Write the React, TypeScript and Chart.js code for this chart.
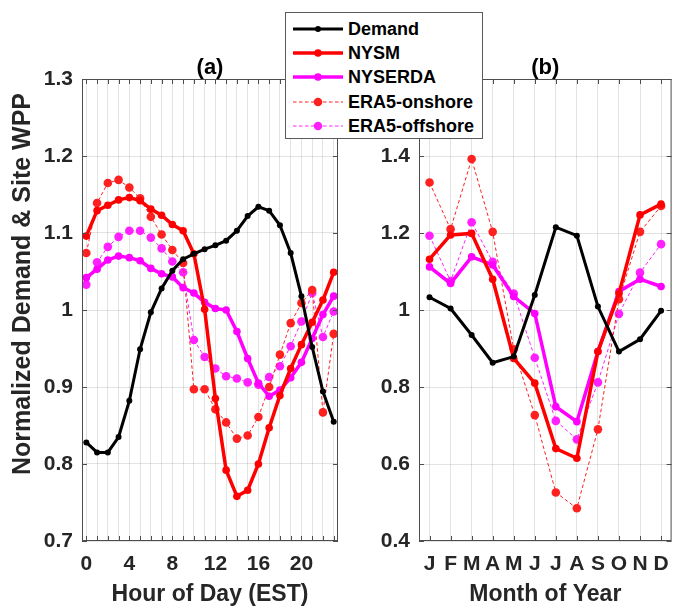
import React, { useEffect, useRef } from 'react';
import { Chart, registerables } from 'chart.js';

Chart.register(...registerables);

// ---------- data ----------
const hours = [0, 1, 2, 3, 4, 5, 6, 7, 8, 9, 10, 11, 12, 13, 14, 15, 16, 17, 18, 19, 20, 21, 22, 23];
const demandHourly = [0.828, 0.815, 0.815, 0.835, 0.882, 0.949, 0.997, 1.028, 1.051, 1.066, 1.073, 1.079, 1.084, 1.090, 1.103, 1.122, 1.134, 1.129, 1.110, 1.074, 1.018, 0.952, 0.894, 0.855];
const nysmHourly = [1.096, 1.129, 1.136, 1.143, 1.146, 1.142, 1.131, 1.123, 1.111, 1.103, 1.073, 1.001, 0.885, 0.792, 0.758, 0.766, 0.800, 0.847, 0.889, 0.924, 0.955, 0.984, 1.013, 1.049];
const nyserdaHourly = [1.042, 1.053, 1.065, 1.070, 1.068, 1.064, 1.054, 1.047, 1.043, 1.029, 1.022, 1.010, 1.002, 1.000, 0.972, 0.937, 0.905, 0.888, 0.896, 0.912, 0.932, 0.963, 0.994, 1.018];
const era5OnHourly = [1.074, 1.139, 1.165, 1.169, 1.159, 1.145, 1.121, 1.098, 1.078, 1.061, 0.897, 0.897, 0.871, 0.854, 0.833, 0.837, 0.861, 0.900, 0.942, 0.983, 1.009, 1.026, 0.867, 0.969];
const era5OffHourly = [1.033, 1.062, 1.082, 1.095, 1.103, 1.103, 1.094, 1.080, 1.063, 1.049, 0.961, 0.939, 0.924, 0.914, 0.911, 0.906, 0.903, 0.913, 0.927, 0.953, 0.985, 1.022, 0.965, 0.998];

const months = [1, 2, 3, 4, 5, 6, 7, 8, 9, 10, 11, 12];
const monthLabels = ['J', 'F', 'M', 'A', 'M', 'J', 'J', 'A', 'S', 'O', 'N', 'D'];
const demandMonthly = [1.033, 1.004, 0.935, 0.863, 0.879, 1.039, 1.215, 1.193, 1.009, 0.892, 0.924, 0.998];
const nysmMonthly = [1.132, 1.195, 1.199, 1.080, 0.874, 0.810, 0.640, 0.615, 0.892, 1.043, 1.247, 1.275];
const nyserdaMonthly = [1.112, 1.069, 1.138, 1.117, 1.035, 0.991, 0.749, 0.710, 0.892, 1.048, 1.080, 1.061];
const era5OnMonthly = [1.331, 1.210, 1.392, 1.203, 0.898, 0.727, 0.526, 0.485, 0.690, 1.028, 1.203, 1.270];
const era5OffMonthly = [1.193, 1.075, 1.228, 1.125, 1.043, 0.876, 0.712, 0.664, 0.812, 0.990, 1.097, 1.171];

const hourLabelStep = 4;
const leftYTicks = [0.7, 0.8, 0.9, 1.0, 1.1, 1.2, 1.3];
const rightYTicks = [0.4, 0.6, 0.8, 1.0, 1.2, 1.4, 1.6];

const seriesNames = ['Demand', 'NYSM', 'NYSERDA', 'ERA5-onshore', 'ERA5-offshore'];

// ---------- styles ----------
const FONT = "'Liberation Sans', Arial, Helvetica, sans-serif";
const TEXT = '#262626';
const GRID = 'rgba(0,0,0,0.11)';
const AXIS = '#4d4d4d';

type Style = { color: string; width: number; radius: number; dash: number[]; order: number };
const styles: Style[] = [
  { color: '#000000', width: 3, radius: 3, dash: [], order: 1 },
  { color: '#ff0000', width: 3.5, radius: 3.8, dash: [], order: 2 },
  { color: '#ff00ff', width: 3.5, radius: 3.8, dash: [], order: 3 },
  { color: '#ff2020', width: 1, radius: 4.3, dash: [3.5, 2.5], order: 4 },
  { color: '#ff20ff', width: 1, radius: 4.3, dash: [3.5, 2.5], order: 5 },
];

function makeDatasets(xs: number[], series: number[][]) {
  return series.map((vals, i) => {
    const s = styles[i];
    return {
      label: seriesNames[i],
      data: xs.map((x, j) => ({ x, y: vals[j] })),
      borderColor: s.color,
      backgroundColor: s.color,
      borderWidth: s.width,
      borderDash: s.dash,
      pointRadius: s.radius,
      pointBorderWidth: 0,
      pointBackgroundColor: s.color,
      tension: 0,
      order: s.order,
    };
  });
}

const boxPlugin = {
  id: 'matlabBox',
  afterDraw(chart: any) {
    const { ctx, chartArea: a, scales } = chart;
    const L = 5;
    ctx.save();
    ctx.strokeStyle = AXIS;
    ctx.lineWidth = 1;
    ctx.beginPath();
    scales.x.ticks.forEach((t: any) => {
      const px = Math.round(scales.x.getPixelForValue(t.value)) + 0.5;
      ctx.moveTo(px, a.bottom);
      ctx.lineTo(px, a.bottom - L);
      ctx.moveTo(px, a.top);
      ctx.lineTo(px, a.top + L);
    });
    scales.y.ticks.forEach((t: any) => {
      const py = Math.round(scales.y.getPixelForValue(t.value)) + 0.5;
      ctx.moveTo(a.left, py);
      ctx.lineTo(a.left + L, py);
      ctx.moveTo(a.right, py);
      ctx.lineTo(a.right - L, py);
    });
    ctx.stroke();
    ctx.strokeRect(a.left + 0.5, a.top + 0.5, a.right - a.left - 1, a.bottom - a.top - 1);
    ctx.restore();
  },
};

const yTitlePlugin = {
  id: 'yTitleLeft',
  afterDraw(chart: any) {
    const ctx = chart.ctx;
    ctx.save();
    ctx.translate(23, 284);
    ctx.rotate(-Math.PI / 2);
    ctx.font = `bold 25px ${FONT}`;
    ctx.fillStyle = TEXT;
    ctx.textAlign = 'center';
    ctx.textBaseline = 'middle';
    ctx.fillText('Normalized Demand & Site WPP', 0, 0);
    ctx.restore();
  },
};

function makeConfig(opts: {
  xs: number[];
  series: number[][];
  xMin: number;
  xMax: number;
  xLabel: (v: number) => string;
  xTitle: string;
  yTicks: number[];
  yDigits: number;
  yWidth: number;
  padRight: number;
  title: string;
  extraPlugins: any[];
}) {
  const tickFont = { family: FONT, size: 21, weight: 'bold' as const };
  return {
    type: 'line' as const,
    data: { datasets: makeDatasets(opts.xs, opts.series) },
    plugins: [boxPlugin, ...opts.extraPlugins],
    options: {
      animation: false as const,
      responsive: false,
      maintainAspectRatio: false,
      events: [],
      layout: { padding: { left: 0, right: opts.padRight, top: 0, bottom: 0 } },
      plugins: {
        legend: { display: false },
        tooltip: { enabled: false },
        title: {
          display: true,
          text: opts.title,
          fullSize: false,
          color: '#000',
          font: { family: FONT, size: 22, weight: 'bold' as const, lineHeight: 1 },
          padding: { top: 57, bottom: 0 },
        },
      },
      scales: {
        x: {
          type: 'linear' as const,
          min: opts.xMin,
          max: opts.xMax,
          afterBuildTicks: (s: any) => {
            s.ticks = opts.xs.map((v) => ({ value: v }));
          },
          afterFit: (s: any) => {
            s.height = 67;
          },
          grid: { color: GRID, drawTicks: false },
          border: { display: false },
          ticks: {
            autoSkip: false,
            maxRotation: 0,
            padding: 11,
            color: TEXT,
            font: tickFont,
            callback: (v: any) => opts.xLabel(Number(v)),
          },
          title: {
            display: true,
            text: opts.xTitle,
            color: TEXT,
            font: { family: FONT, size: 23, weight: 'bold' as const, lineHeight: 1.2 },
            padding: { top: 0, bottom: 0 },
          },
        },
        y: {
          type: 'linear' as const,
          min: opts.yTicks[0],
          max: opts.yTicks[opts.yTicks.length - 1],
          afterBuildTicks: (s: any) => {
            s.ticks = opts.yTicks.map((v) => ({ value: v }));
          },
          afterFit: (s: any) => {
            s.width = opts.yWidth;
          },
          grid: { color: GRID, drawTicks: false },
          border: { display: false },
          ticks: {
            padding: 9,
            color: TEXT,
            font: tickFont,
            callback: (v: any) => String(Number(Number(v).toFixed(opts.yDigits))),
          },
        },
      },
    },
  };
}

function LegendRow({ idx, top }: { idx: number; top: number }) {
  const s = styles[idx];
  return (
    <div style={{ position: 'absolute', left: 0, top: top - 12, height: 24, width: '100%' }}>
      <svg width={52} height={24} style={{ position: 'absolute', left: 6, top: 0 }}>
        <line
          x1={1}
          y1={12}
          x2={51}
          y2={12}
          stroke={s.color}
          strokeWidth={s.width}
          strokeDasharray={s.dash.length ? s.dash.join(' ') : undefined}
        />
        <circle cx={26} cy={12} r={s.radius} fill={s.color} />
      </svg>
      <span
        style={{
          position: 'absolute',
          left: 62,
          top: 0,
          lineHeight: '24px',
          whiteSpace: 'nowrap',
        }}
      >
        {seriesNames[idx]}
      </span>
    </div>
  );
}

export default function App() {
  const leftRef = useRef<HTMLCanvasElement | null>(null);
  const rightRef = useRef<HTMLCanvasElement | null>(null);

  useEffect(() => {
    const left = new Chart(
      leftRef.current as HTMLCanvasElement,
      makeConfig({
        xs: hours,
        series: [demandHourly, nysmHourly, nyserdaHourly, era5OnHourly, era5OffHourly],
        xMin: -0.4,
        xMax: 23.4,
        xLabel: (v) => (v % hourLabelStep === 0 ? String(v) : ''),
        xTitle: 'Hour of Day (EST)',
        yTicks: leftYTicks,
        yDigits: 1,
        yWidth: 82,
        padRight: 22,
        title: '(a)',
        extraPlugins: [yTitlePlugin],
      }) as any
    );
    const right = new Chart(
      rightRef.current as HTMLCanvasElement,
      makeConfig({
        xs: months,
        series: [demandMonthly, nysmMonthly, nyserdaMonthly, era5OnMonthly, era5OffMonthly],
        xMin: 0.5,
        xMax: 12.5,
        xLabel: (v) => monthLabels[v - 1] ?? '',
        xTitle: 'Month of Year',
        yTicks: rightYTicks,
        yDigits: 1,
        yWidth: 59,
        padRight: 4,
        title: '(b)',
        extraPlugins: [],
      }) as any
    );
    return () => {
      left.destroy();
      right.destroy();
    };
  }, []);

  return (
    <div
      style={{
        position: 'absolute',
        left: 0,
        top: 0,
        width: 673,
        height: 608,
        overflow: 'hidden',
        background: '#fff',
      }}
    >
      <canvas
        ref={leftRef}
        width={360}
        height={608}
        style={{ position: 'absolute', left: 0, top: 0, width: 360, height: 608 }}
      />
      <canvas
        ref={rightRef}
        width={320}
        height={608}
        style={{ position: 'absolute', left: 360, top: 0, width: 320, height: 608 }}
      />
      <div
        style={{
          position: 'absolute',
          left: 285,
          top: 12,
          width: 198,
          height: 127,
          boxSizing: 'border-box',
          border: '1px solid #5a5a5a',
          background: '#fff',
          zIndex: 3,
          fontFamily: FONT,
          fontWeight: 'bold',
          fontSize: 18,
          color: '#000',
        }}
      >
        {seriesNames.map((_, i) => (
          <LegendRow key={i} idx={i} top={16 + i * 24.2} />
        ))}
      </div>
    </div>
  );
}
